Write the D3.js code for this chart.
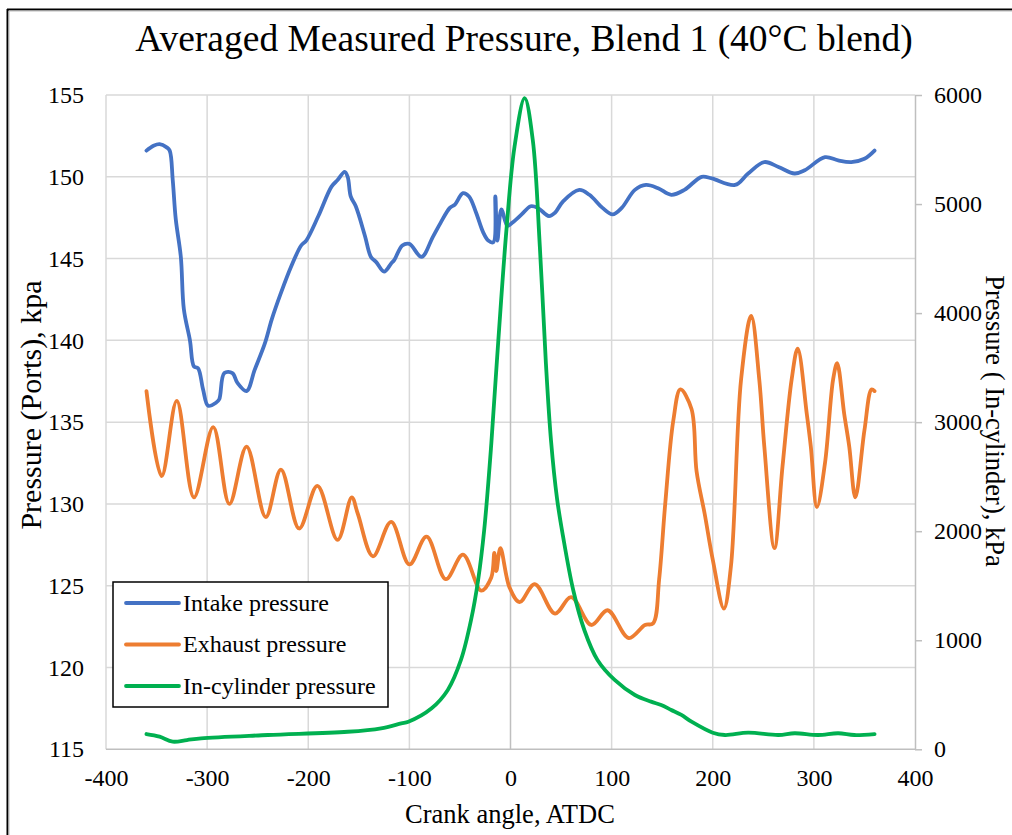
<!DOCTYPE html>
<html>
<head>
<meta charset="utf-8">
<script src="https://cdn.jsdelivr.net/npm/d3@7"></script>
<style>
body { margin: 0; background: #fff; }
text { font-family: "Liberation Serif", "Times New Roman", serif; fill: #000; }
</style>
</head>
<body>
<script>
var chartTitle = "Averaged Measured Pressure, Blend 1 (40\u00B0C blend)";
var xTitle = "Crank angle, ATDC";
var yLeftTitle = "Pressure (Ports), kpa";
var yRightTitle = "Pressure ( In-cylinder), kPa";
var seriesNames = ["Intake pressure", "Exhaust pressure", "In-cylinder pressure"];
var seriesColors = ["#4472C4", "#ED7D31", "#00B050"];

var xTicks = [-400, -300, -200, -100, 0, 100, 200, 300, 400];
var yLeftTicks = [115, 120, 125, 130, 135, 140, 145, 150, 155];
var yRightTicks = [0, 1000, 2000, 3000, 4000, 5000, 6000];

// intake (left axis)
var intakeAngle = [-360, -353, -347, -340, -337, -334, -331, -326, -323, -317, -313, -309, -304, -299, -291, -288, -283, -275, -270, -261, -253, -243, -236, -227, -217, -207, -202, -190, -177, -171, -164, -161, -158, -153, -144, -138, -133, -125, -118, -115, -107, -100, -88, -77, -69, -60, -55, -47, -41, -34, -27, -22, -17, -15, -13, -9, -3, 2, 11, 20, 27, 38, 44, 52, 68, 78, 91, 101, 110, 123, 134, 146, 159, 172, 189, 199, 222, 235, 251, 265, 281, 291, 311, 324, 337, 350, 360];
var intakeP = [151.6, 151.9, 152.0, 151.8, 151.6, 149.8, 147.4, 145.1, 141.9, 140.0, 138.4, 138.3, 137.0, 136.0, 136.2, 136.4, 138.0, 138.0, 137.4, 136.9, 138.2, 139.8, 141.3, 142.9, 144.5, 145.8, 146.1, 147.6, 149.4, 149.8, 150.3, 150.0, 148.8, 148.2, 146.4, 145.1, 144.8, 144.2, 144.7, 144.9, 145.8, 145.9, 145.1, 146.3, 147.2, 148.1, 148.3, 149.0, 148.8, 147.8, 146.6, 146.1, 146.0, 148.8, 146.1, 148.0, 147.0, 147.2, 147.7, 148.2, 148.1, 147.6, 147.8, 148.5, 149.2, 148.9, 148.1, 147.7, 148.1, 149.2, 149.5, 149.3, 148.9, 149.2, 150.0, 149.9, 149.5, 150.2, 150.9, 150.6, 150.2, 150.4, 151.2, 151.0, 150.9, 151.1, 151.6];

// exhaust (left axis)
var exhaustAngle = [-360, -345, -330, -313, -294, -278, -261, -242, -227, -209, -191, -171, -157, -151, -136, -118, -100, -83, -64, -47, -29, -19, -16, -14, -10, -1, 9, 24, 44, 60, 80, 96, 117, 133, 141, 147, 153, 161, 168, 179, 184, 192, 200, 211, 218, 228, 238, 246, 251, 261, 269, 278, 284, 293, 297, 303, 311, 319, 323, 330, 335, 341, 350, 357, 360];
var exhaustP = [136.9, 131.7, 136.3, 130.4, 134.7, 130.0, 133.5, 129.2, 132.1, 128.5, 131.1, 127.8, 130.4, 129.4, 126.8, 128.9, 126.3, 128.0, 125.4, 126.9, 124.7, 125.5, 127.0, 125.9, 127.3, 124.9, 124.0, 125.1, 123.3, 124.3, 122.6, 123.5, 121.8, 122.6, 122.7, 125.4, 130.0, 135.1, 137.0, 135.8, 132.0, 129.4, 126.6, 123.6, 126.2, 137.6, 141.5, 137.6, 133.5, 127.3, 132.3, 137.6, 139.5, 135.5, 133.5, 129.8, 132.5, 137.6, 138.6, 135.5, 133.5, 130.4, 134.5, 137.0, 136.9];

// in-cylinder (right axis)
var cylAngle = [-360, -347, -334, -320, -306, -240, -161, -128, -108, -101, -78, -62, -49, -39, -32, -26, -19, -12, -4, 4, 14, 22, 29, 35, 40, 46, 52, 62, 73, 86, 103, 123, 139, 149, 159, 169, 179, 200, 212, 235, 265, 281, 304, 324, 340, 360];
var cylP = [140, 116, 70, 85, 101, 131, 161, 193, 238, 253, 376, 544, 819, 1186, 1553, 2012, 2800, 3755, 4764, 5528, 5972, 5590, 4611, 3541, 2838, 2300, 1950, 1461, 1094, 819, 636, 498, 437, 406, 361, 315, 253, 152, 131, 152, 131, 147, 131, 147, 131, 140];

var W = 1012, H = 835;
var plotLeft = 106, plotRight = 915, plotTop = 95, plotBottom = 749.3;

var svg = d3.select("body").append("svg").attr("width", W).attr("height", H);

var x = d3.scaleLinear().domain([-400, 400]).range([plotLeft, plotRight]);
var yL = d3.scaleLinear().domain([115, 155]).range([plotBottom, plotTop]);
var yR = d3.scaleLinear().domain([0, 6000]).range([plotBottom, plotTop]);

// outer frame (only top and left edges show)
svg.append("line").attr("x1", 7).attr("y1", 9.5).attr("x2", W).attr("y2", 9.5).attr("stroke", "#000").attr("stroke-width", 2);
svg.append("line").attr("x1", 7.5).attr("y1", 9).attr("x2", 7.5).attr("y2", H).attr("stroke", "#000").attr("stroke-width", 2);
svg.append("line").attr("x1", 9).attr("y1", 11).attr("x2", W).attr("y2", 11).attr("stroke", "#bbb").attr("stroke-width", 1);
svg.append("line").attr("x1", 9).attr("y1", 11).attr("x2", 9).attr("y2", H).attr("stroke", "#bbb").attr("stroke-width", 1);

// gridlines
svg.append("g").selectAll("line").data(yLeftTicks.slice(1)).enter().append("line")
  .attr("x1", plotLeft).attr("x2", plotRight)
  .attr("y1", function(d) { return yL(d); }).attr("y2", function(d) { return yL(d); })
  .attr("stroke", "#d9d9d9").attr("stroke-width", 1.5);

svg.append("g").selectAll("line").data(xTicks.filter(function(d) { return d != 0 && d != 400; })).enter().append("line")
  .attr("x1", function(d) { return x(d); }).attr("x2", function(d) { return x(d); })
  .attr("y1", plotTop).attr("y2", plotBottom)
  .attr("stroke", "#d9d9d9").attr("stroke-width", 1.5);

// x = 0 line and bottom axis line
svg.append("line").attr("x1", x(0)).attr("x2", x(0)).attr("y1", plotTop).attr("y2", plotBottom).attr("stroke", "#bfbfbf").attr("stroke-width", 1.5);
svg.append("line").attr("x1", plotLeft).attr("x2", plotRight).attr("y1", plotBottom).attr("y2", plotBottom).attr("stroke", "#bfbfbf").attr("stroke-width", 1.5);

// axes (plain hyphen for negatives, like the original)
var plain = function(d) { return String(d); };

var xAxis = svg.append("g").attr("transform", "translate(0," + plotBottom + ")")
  .call(d3.axisBottom(x).tickValues(xTicks).tickSize(0).tickPadding(20).tickFormat(plain));
xAxis.select(".domain").remove();

var yAxisL = svg.append("g").attr("transform", "translate(" + plotLeft + ",0)")
  .call(d3.axisLeft(yL).tickValues(yLeftTicks).tickSize(0).tickPadding(22).tickFormat(plain));
yAxisL.select(".domain").remove();

var yAxisR = svg.append("g").attr("transform", "translate(" + plotRight + ",0)")
  .call(d3.axisRight(yR).tickValues(yRightTicks).tickSize(7).tickSizeOuter(0).tickPadding(12).tickFormat(plain));
yAxisR.select(".domain").attr("stroke", "#bfbfbf").attr("stroke-width", 1.5);
yAxisR.selectAll(".tick line").attr("stroke", "#bfbfbf").attr("stroke-width", 1.5);

svg.selectAll(".tick text").style("font-size", "24px").style("font-family", "'Liberation Serif', 'Times New Roman', serif").attr("fill", "#000");

// series
function drawSeries(xs, ys, scaleY, color) {
  var pts = xs.map(function(d, i) { return [d, ys[i]]; });
  var line = d3.line()
    .x(function(d) { return x(d[0]); })
    .y(function(d) { return scaleY(d[1]); })
    .curve(d3.curveCatmullRom.alpha(0.5));
  svg.append("path").datum(pts).attr("d", line)
    .attr("fill", "none").attr("stroke", color).attr("stroke-width", 3.8)
    .attr("stroke-linejoin", "round").attr("stroke-linecap", "round");
}
drawSeries(intakeAngle, intakeP, yL, seriesColors[0]);
drawSeries(exhaustAngle, exhaustP, yL, seriesColors[1]);
drawSeries(cylAngle, cylP, yR, seriesColors[2]);

// titles
svg.append("text").attr("x", 524).attr("y", 51).attr("text-anchor", "middle").style("font-size", "37.5px").text(chartTitle);
svg.append("text").attr("x", 510).attr("y", 823).attr("text-anchor", "middle").style("font-size", "26.5px").text(xTitle);
svg.append("text").attr("transform", "translate(41,405) rotate(-90)").attr("text-anchor", "middle").style("font-size", "30px").text(yLeftTitle);
svg.append("text").attr("transform", "translate(986,421) rotate(90)").attr("text-anchor", "middle").style("font-size", "26.5px").text(yRightTitle);

// legend
var legend = svg.append("g");
legend.append("rect").attr("x", 113).attr("y", 582).attr("width", 275).attr("height", 125)
  .attr("fill", "#fff").attr("stroke", "#000").attr("stroke-width", 1.5);
legend.selectAll("line").data(seriesNames).enter().append("line")
  .attr("x1", 126).attr("x2", 179)
  .attr("y1", function(d, i) { return 603 + i * 41.5; })
  .attr("y2", function(d, i) { return 603 + i * 41.5; })
  .attr("stroke", function(d, i) { return seriesColors[i]; })
  .attr("stroke-width", 3.8).attr("stroke-linecap", "round");
legend.selectAll("text").data(seriesNames).enter().append("text")
  .attr("x", 183)
  .attr("y", function(d, i) { return 603 + i * 41.5; })
  .attr("dy", "0.33em")
  .style("font-size", "24px")
  .text(function(d) { return d; });
</script>
</body>
</html>
